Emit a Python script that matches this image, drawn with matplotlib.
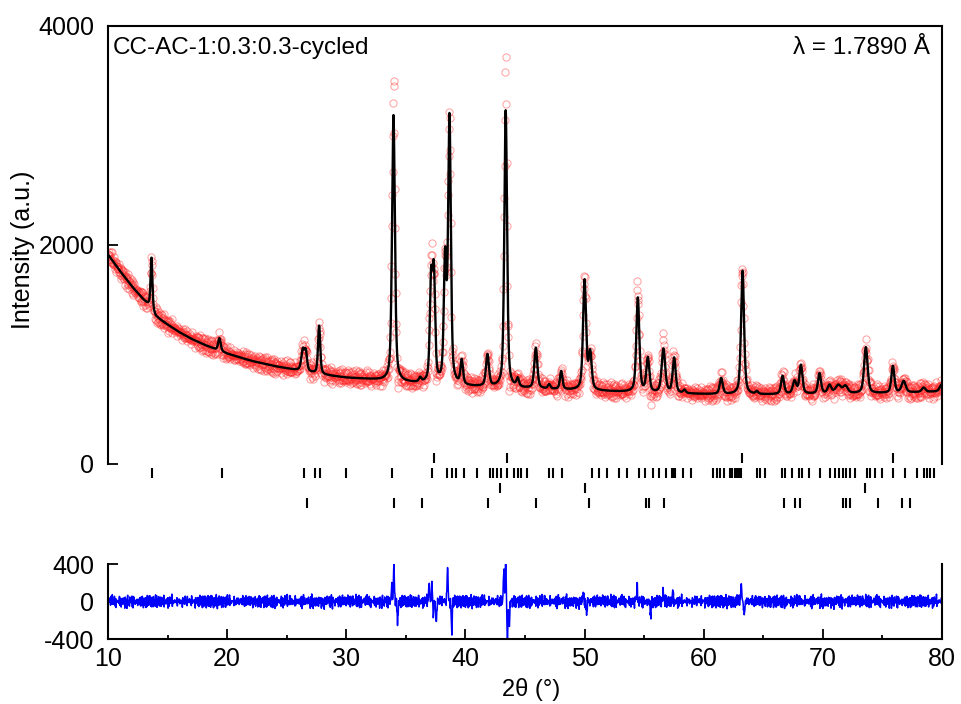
import numpy as np
import matplotlib
matplotlib.use('Agg')
from matplotlib import pyplot as plt
from matplotlib.ticker import MultipleLocator

plt.rcParams['font.family'] = ['Liberation Sans', 'DejaVu Sans']
plt.rcParams['axes.unicode_minus'] = False

# background of the pattern (deg, counts)
bg_x = [10, 11, 12, 13, 13.5, 14, 15, 16, 17, 18, 19, 20, 22, 24, 26, 28, 30, 32, 34, 36,
        38, 40, 44, 48, 52, 56, 60, 64, 68, 72, 76, 80]
bg_y = [1910, 1760, 1620, 1495, 1440, 1345, 1270, 1200, 1140, 1090, 1045, 1005, 940, 890,
        850, 812, 785, 770, 750, 732, 718, 705, 690, 675, 660, 645, 635, 630, 635, 640, 645, 660]

# refined peaks: position (deg), height above background, fwhm (deg)
peak_pos = [13.65, 19.35, 26.35, 26.6, 27.72, 33.96, 36.2, 37.12, 37.35, 38.29, 38.66, 39.69,
            41.85, 43.38, 44.39, 45.91, 47.03, 48.04, 50.0, 50.47, 54.47, 55.31, 56.62, 57.52,
            58.39, 61.47, 63.26, 64.46, 66.62, 67.63, 68.16, 69.72, 70.56, 71.3, 71.9, 73.61,
            75.88, 76.78, 78.46, 79.95]
peak_h = [470, 115, 190, 170, 440, 2430, 40, 900, 960, 1100, 2420, 220,
          290, 2530, 75, 370, 40, 165, 1000, 330, 860, 310, 400, 320,
          30, 145, 1130, 25, 165, 115, 260, 185, 75, 75, 65, 420,
          245, 105, 40, 60]
peak_w = [0.18, 0.25, 0.3, 0.25, 0.22, 0.28, 0.25, 0.25, 0.25, 0.25, 0.27, 0.25,
          0.3, 0.27, 0.25, 0.3, 0.25, 0.25, 0.3, 0.3, 0.3, 0.3, 0.35, 0.3,
          0.25, 0.3, 0.3, 0.25, 0.3, 0.35, 0.3, 0.3, 0.35, 0.55, 0.45, 0.35,
          0.3, 0.4, 0.35, 0.35]

# misfit features seen in the difference curve
misfit_pos = [33.82, 34.0, 34.3, 36.95, 37.2, 37.3, 37.55, 38.5, 38.85,
              43.22, 43.38, 43.52, 43.68, 49.9, 50.15, 54.4, 55.55, 56.6, 57.4, 63.15, 63.4]
misfit_amp = [180, 400, -230, 200, 200, -180, -230, 380, -360,
              330, 460, -430, -250, 110, -120, 170, -160, 100, 90, 200, -150]

# point-to-point scatter of the observed counts
jitter_a = [12, -35, 28, -8, 41, -22, 5, -47, 19, 33, -14, -29, 38, -5, -40, 24, 9, -18,
            45, -31, 2, 27, -38]
jitter_b = [-10, 22, -27, 15, -4, 31, -19, 8, -33, 26, -12, 3, 36, -24, 17, -7, -36, 20,
            11, -15, 29, -2, -26, 14, 34, -21, 6, -30, 18, -9, 25]

# reflection positions of the four phases
refl_1 = [37.4, 43.45, 63.2, 75.9]
refl_2 = [13.72, 19.6, 26.46, 27.38, 27.8, 29.96, 33.87, 37.18, 38.49, 38.86, 39.19, 39.89,
          41.0, 42.07, 42.35, 42.69, 43.02, 43.52, 44.11, 44.45, 44.67, 45.2, 47.05, 47.39,
          48.09, 50.6, 51.25, 51.92, 52.93, 53.55, 54.53, 55.09, 55.73, 56.29, 56.85, 57.3,
          57.45, 57.6, 58.3, 58.92, 60.82, 61.1, 61.38, 61.72, 62.2, 62.4, 62.6, 62.8, 62.95,
          63.1, 64.46, 64.74, 65.16, 66.56, 66.84, 67.4, 67.96, 68.24, 68.8, 69.78, 70.62,
          71.04, 71.32, 71.68, 71.96, 72.3, 72.72, 73.7, 73.98, 74.4, 74.96, 75.88, 76.92,
          77.9, 78.46, 78.74, 79.02, 79.3]
refl_3 = [42.9, 50.05, 73.56]
refl_4 = [26.73, 34.04, 36.33, 41.93, 45.94, 50.41, 55.17, 55.37, 56.68, 66.7, 67.68,
          68.05, 71.68, 71.96, 72.3, 74.6, 76.64, 77.28]


def profile(x):
    y = np.interp(x, bg_x, bg_y)
    for p, h, w in zip(peak_pos, peak_h, peak_w):
        g = np.exp(-4 * np.log(2) * ((x - p) / w) ** 2)
        lor = 1 / (1 + 4 * ((x - p) / w) ** 2)
        y = y + h * (0.5 * g + 0.5 * lor)
    return y


two_theta = np.arange(10, 80.001, 0.03)
n = len(two_theta)
jitter = np.resize(jitter_a, n) + np.resize(jitter_b, n)
misfit = np.zeros(n)
for p, a in zip(misfit_pos, misfit_amp):
    misfit += a * np.exp(-0.5 * ((two_theta - p) / 0.04) ** 2)
y_calc = profile(two_theta)
y_obs = y_calc + misfit + jitter
y_diff = y_obs - y_calc

x_fine = np.arange(10, 80.001, 0.01)
y_fine = profile(x_fine)

fig = plt.figure(figsize=(9.61, 7.04), dpi=100)
ax = fig.add_axes([0.1124, 0.248, 0.8678, 0.7155])
ax2 = fig.add_axes([0.1124, 0.0923, 0.8678, 0.1065])

ax.plot(two_theta, y_obs, 'o', ms=5.2, mfc='none', mec='#ff2a2a', mew=0.7, alpha=0.45)
ax.plot(x_fine, y_fine, color='black', lw=1.7)

rows = [(refl_1, 55), (refl_2, -82), (refl_3, -219), (refl_4, -356)]
for refl, level in rows:
    ax.plot(refl, [level] * len(refl), '|', color='black', ms=7, mew=1.5)

ax.set_xlim(10, 80)
ax.set_ylim(-600, 4000)
ax.spines['bottom'].set_visible(False)
ax.spines['left'].set_bounds(0, 4000)
ax.spines['right'].set_bounds(0, 4000)
for s in ax.spines.values():
    s.set_linewidth(1.5)
ax.set_xticks([])
ax.set_yticks([0, 2000, 4000])
ax.tick_params(axis='y', direction='in', length=7, width=1.3, labelsize=18, pad=10)
ax.text(0.006, 0.978, 'CC-AC-1:0.3:0.3-cycled', transform=ax.transAxes, fontsize=17.5,
        va='top', ha='left')
ax.text(0.985, 0.978, 'λ = 1.7890 Å', transform=ax.transAxes, fontsize=17.5,
        va='top', ha='right')
fig.text(0.024, 0.645, 'Intensity (a.u.)', rotation=90, fontsize=18, ha='center',
         va='center')

ax2.plot(two_theta, y_diff, color='#0000ff', lw=1.1)
ax2.set_xlim(10, 80)
ax2.set_ylim(-400, 400)
ax2.spines['top'].set_visible(False)
for s in ax2.spines.values():
    s.set_linewidth(1.5)
ax2.set_yticks([-400, 0, 400])
ax2.set_xticks(np.arange(10, 81, 10))
ax2.xaxis.set_minor_locator(MultipleLocator(5))
ax2.tick_params(axis='both', which='major', direction='in', length=7, width=1.3,
                labelsize=18, pad=10)
ax2.tick_params(axis='x', which='minor', direction='in', length=3, width=1.3)
ax2.tick_params(axis='x', pad=6)
fig.text(0.553, 0.021, '2θ (°)', fontsize=17, ha='center', va='center')

fig.savefig('out.png', dpi=100)
